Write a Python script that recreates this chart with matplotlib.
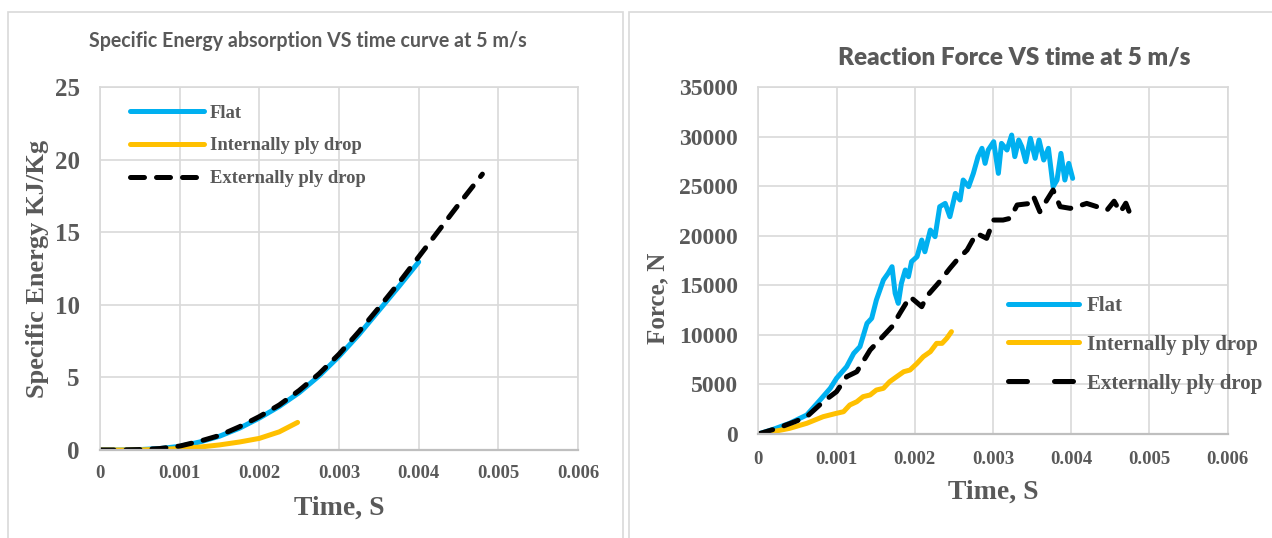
import matplotlib
matplotlib.use("Agg")
import matplotlib.pyplot as plt
from matplotlib.patches import Rectangle
from matplotlib.lines import Line2D

# ---- Specific energy absorption (KJ/Kg) vs time ----
t_se_flat = [0, 0.00025, 0.0005, 0.00075, 0.001, 0.00125, 0.0015, 0.00175, 0.002,
             0.00225, 0.0025, 0.00275, 0.003, 0.00325, 0.0035, 0.00375, 0.004]
se_flat = [0, 0.0, 0.03, 0.1, 0.25, 0.55, 0.95, 1.5, 2.2,
           3.0, 3.95, 5.1, 6.45, 7.95, 9.6, 11.25, 12.95]

t_se_int = [0, 0.00025, 0.0005, 0.00075, 0.001, 0.00125, 0.0015, 0.00175, 0.002,
            0.00225, 0.00248]
se_int = [0, 0.0, 0.01, 0.04, 0.1, 0.2, 0.35, 0.55, 0.8, 1.25, 1.9]

t_se_ext = [0, 0.00025, 0.0005, 0.00075, 0.001, 0.00125, 0.0015, 0.00175, 0.002,
            0.00225, 0.0025, 0.00275, 0.003, 0.00325, 0.0035, 0.00375, 0.004,
            0.00425, 0.0045, 0.0048]
se_ext = [0, 0.0, 0.03, 0.1, 0.27, 0.6, 1.0, 1.6, 2.3, 3.1, 4.1, 5.25, 6.6,
          8.15, 9.8, 11.5, 13.3, 15.1, 16.9, 19.0]

# ---- Reaction force (N) vs time ----
t_f_flat = [0, 0.00019, 0.00040, 0.00062, 0.00079, 0.00092, 0.00100, 0.00113, 0.00122,
            0.00130, 0.00139, 0.00145, 0.00151, 0.00160, 0.00166, 0.00171, 0.00175,
            0.00179, 0.00183, 0.00188, 0.00192, 0.00196, 0.00203, 0.00209, 0.00213,
            0.00220, 0.00226, 0.00232, 0.00239, 0.00245, 0.00252, 0.00258, 0.00262,
            0.00269, 0.00275, 0.00281, 0.00286, 0.00290, 0.00294, 0.00301, 0.00307,
            0.00311, 0.00318, 0.00324, 0.00328, 0.00333, 0.00337, 0.00342, 0.00348,
            0.00354, 0.00359, 0.00365, 0.00371, 0.00377, 0.00382, 0.00387, 0.00392,
            0.00397, 0.00402]
f_flat = [0, 470, 1080, 1920, 3430, 4610, 5620, 6800, 8140, 8820, 11170, 11680, 13530,
          15550, 16220, 16890, 14200, 13190, 15210, 16560, 15880, 17400, 17900, 19580,
          18400, 20590, 19920, 22950, 23280, 21940, 24290, 23620, 25640, 24970, 26310,
          28000, 28840, 27320, 28670, 29510, 26310, 29340, 28670, 30180, 28000, 29680,
          29000, 27490, 29850, 27830, 29680, 27660, 28840, 24970, 25640, 28330, 25640,
          27320, 25810]

t_f_int = [0, 0.00019, 0.00040, 0.00062, 0.00083, 0.00100, 0.00109, 0.00117, 0.00126,
           0.00134, 0.00143, 0.00151, 0.00160, 0.00168, 0.00177, 0.00186, 0.00194,
           0.00203, 0.00211, 0.00220, 0.00228, 0.00235, 0.00241, 0.00247]
f_int = [0, 240, 570, 1080, 1750, 2090, 2250, 2930, 3260, 3770, 3940, 4440, 4610, 5280,
         5790, 6290, 6460, 7130, 7810, 8310, 9150, 9150, 9660, 10330]

t_f_ext = [0, 0.00024, 0.00047, 0.00062, 0.00083, 0.00100, 0.00113, 0.00126, 0.00143,
           0.00151, 0.00171, 0.00181, 0.00194, 0.00209, 0.00215, 0.00230, 0.00245,
           0.00254, 0.00267, 0.00279, 0.00292, 0.00301, 0.00313, 0.00322, 0.00331,
           0.00348, 0.00352, 0.00360, 0.00369, 0.00377, 0.00386, 0.00399, 0.00407,
           0.00420, 0.00433, 0.00446, 0.00455, 0.00463, 0.00470, 0.00475, 0.00480]
f_ext = [0, 570, 1250, 1750, 3260, 4270, 5790, 6290, 8480, 9150, 10840, 12180, 13860,
         12850, 13860, 15210, 16720, 17560, 18570, 20260, 19750, 21600, 21600, 21770,
         23120, 23280, 23960, 22440, 23620, 24630, 22950, 22780, 22950, 23280, 22950,
         22610, 23500, 22400, 23300, 22300, 23100]

series_labels = ["Flat", "Internally ply drop", "Externally ply drop"]
time_ticks = [0, 0.001, 0.002, 0.003, 0.004, 0.005, 0.006]
time_ticklabels = ["0", "0.001", "0.002", "0.003", "0.004", "0.005", "0.006"]
se_ticks = [0, 5, 10, 15, 20, 25]
force_ticks = [0, 5000, 10000, 15000, 20000, 25000, 30000, 35000]

BLUE = "#00b0f0"
GOLD = "#ffc000"
BLACK = "#000000"
GREY_TXT = "#595959"
GRID = "#d9d9d9"

serif = ["Liberation Serif", "DejaVu Serif"]
sans = ["Lato", "DejaVu Sans"]

W, H = 1272, 538
fig = plt.figure(figsize=(W / 100, H / 100), dpi=100)

# panel frames
for x0, x1 in [(7.5, 623.0), (628.5, 1300.0)]:
    fig.add_artist(Rectangle((x0 / W, -0.1), (x1 - x0) / W, 1.1 - 12 / H,
                             transform=fig.transFigure, fill=False,
                             edgecolor=GRID, lw=1.2))


def px_axes(l, r, t, b):
    return fig.add_axes([l / W, 1 - b / H, (r - l) / W, (b - t) / H])


def style_axes(ax, yticks, ylim, ytick_size):
    ax.set_xlim(0, 0.006)
    ax.set_ylim(*ylim)
    ax.set_xticks(time_ticks)
    ax.set_xticklabels(time_ticklabels)
    ax.set_yticks(yticks)
    ax.set_yticklabels([str(v) for v in yticks])
    ax.grid(True, color=GRID, lw=1.2)
    ax.set_axisbelow(True)
    for side in ("left", "top", "right"):
        ax.spines[side].set_color(GRID)
        ax.spines[side].set_linewidth(1.2)
    ax.spines["bottom"].set_color("#bfbfbf")
    ax.spines["bottom"].set_linewidth(1.6)
    ax.tick_params(length=0, colors=GREY_TXT)
    for lab in ax.get_xticklabels():
        lab.set_fontfamily(serif)
        lab.set_fontweight("bold")
        lab.set_fontsize(13.5)
    for lab in ax.get_yticklabels():
        lab.set_fontfamily(serif)
        lab.set_fontweight("bold")
        lab.set_fontsize(ytick_size)


LW = 3.6

# ---- left panel ----
ax1 = px_axes(100, 578, 87, 450)
style_axes(ax1, se_ticks, (0, 25), 18)
ax1.tick_params(axis="x", pad=11)
ax1.tick_params(axis="y", pad=14.5)
ax1.plot(t_se_flat, se_flat, color=BLUE, lw=LW, solid_capstyle="round",
         label=series_labels[0])
ax1.plot(t_se_int, se_int, color=GOLD, lw=LW, solid_capstyle="round",
         label=series_labels[1])
ax1.plot(t_se_ext, se_ext, color=BLACK, lw=LW, dashes=(2.8, 2.4),
         dash_capstyle="round", label=series_labels[2])
ax1.set_xlabel("Time, S", family=serif, weight="bold", size=20, color=GREY_TXT,
               labelpad=10)
ax1.set_ylabel("Specific Energy KJ/Kg", family=serif, weight="bold", size=19,
               color=GREY_TXT, labelpad=4)
ax1.legend(loc="upper left", bbox_to_anchor=(0.063, 0.951), frameon=False,
           prop={"family": serif, "weight": "bold", "size": 13.4},
           labelcolor=GREY_TXT, handlelength=3.95, handletextpad=0.35,
           labelspacing=0.84, borderpad=0, borderaxespad=0)
fig.text(308 / W, 1 - 41 / H, "Specific Energy absorption VS time curve at 5 m/s",
         ha="center", va="center", family=sans, weight="bold", size=14.1,
         color=GREY_TXT)

# ---- right panel ----
ax2 = px_axes(758.3, 1227.5, 87.3, 434)
style_axes(ax2, force_ticks, (0, 35000), 17)
ax2.tick_params(axis="x", pad=12)
ax2.tick_params(axis="y", pad=14.5)
ax2.plot(t_f_flat, f_flat, color=BLUE, lw=LW, solid_capstyle="round",
         solid_joinstyle="round")
ax2.plot(t_f_int, f_int, color=GOLD, lw=LW, solid_capstyle="round",
         solid_joinstyle="round")
ax2.plot(t_f_ext, f_ext, color=BLACK, lw=LW, dashes=(3.0, 2.4),
         dash_capstyle="round", dash_joinstyle="round")
ax2.set_xlabel("Time, S", family=serif, weight="bold", size=20, color=GREY_TXT,
               labelpad=9)
ax2.set_ylabel("Force, N", family=serif, weight="bold", size=18, color=GREY_TXT)
ax2.yaxis.set_label_coords(-0.19, 0.39)
legend_handles = [
    Line2D([], [], color=BLUE, lw=LW, solid_capstyle="round"),
    Line2D([], [], color=GOLD, lw=LW, solid_capstyle="round"),
    Line2D([], [], color=BLACK, lw=LW, dashes=(3.8, 5.4), dash_capstyle="round"),
]
ax2.legend(legend_handles, series_labels, loc="upper left",
           bbox_to_anchor=(0.532, 0.398), frameon=False,
           prop={"family": serif, "weight": "bold", "size": 15},
           labelcolor=GREY_TXT, handlelength=3.4, handletextpad=0.38,
           labelspacing=0.9, borderpad=0, borderaxespad=0)
fig.text(1014 / W, 1 - 57 / H, "Reaction Force VS time at 5 m/s",
         ha="center", va="center", family=sans, weight="heavy", size=17.5,
         color=GREY_TXT)

fig.savefig("out.png", dpi=100)
